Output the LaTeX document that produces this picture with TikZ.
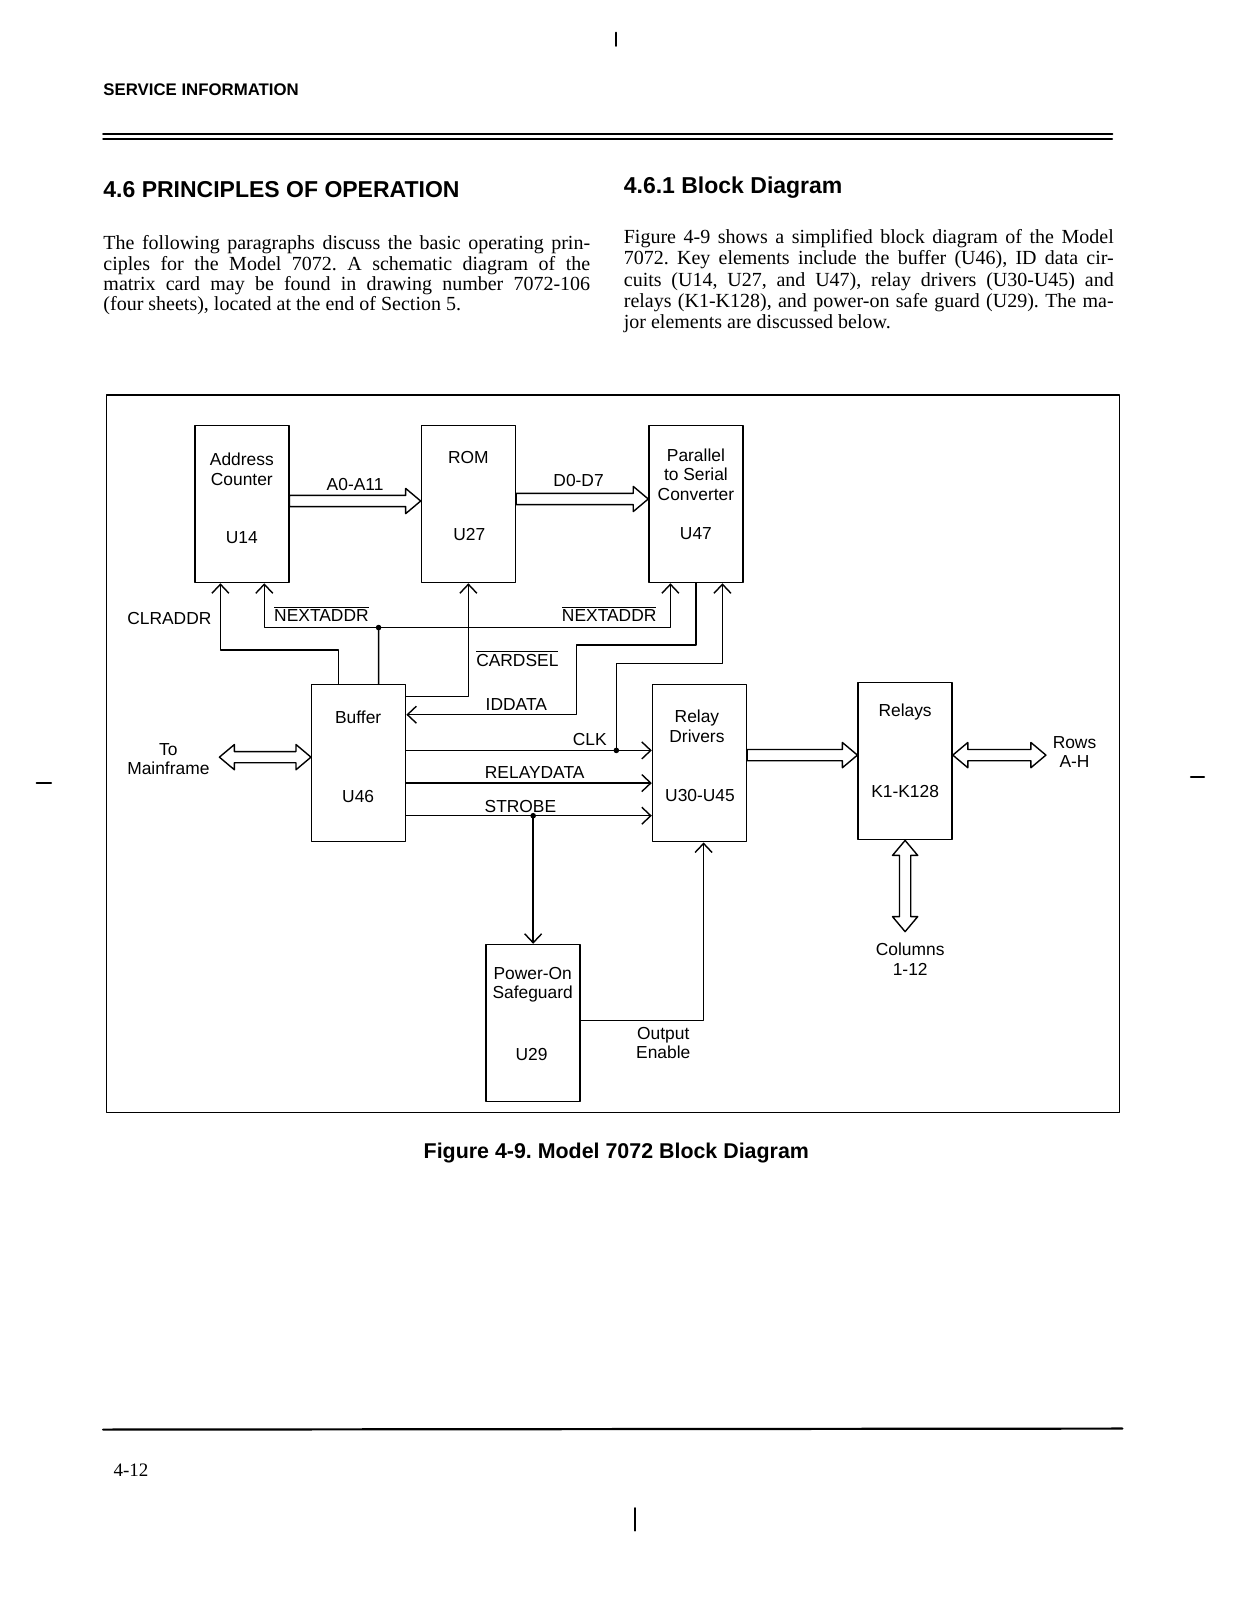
\documentclass[tikz,border=0pt]{standalone}
\usepackage{fontspec}
\setmainfont{Liberation Serif}
\setsansfont{Liberation Sans}
\usetikzlibrary{arrows.meta,calc,positioning}
\frenchspacing

\begin{document}
\begin{tikzpicture}[x=0.5103pt,y=-0.5103pt,line cap=round,line join=round,
  >={Straight Barb[length=4.5pt,width=8.5pt]},
  blk/.style={draw,line width=.7pt,minimum width=47pt,minimum height=78.5pt,inner sep=0pt},
  lbl/.style={font=\sffamily\fontsize{8.7}{9.8}\selectfont,inner sep=0pt,align=center},
  sig/.style={line width=.7pt},
  bus/.style={draw,line width=.7pt,fill=white,to path={
    ($(\tikztostart)!2.8pt!90:(\tikztotarget)$)
    -- ($(\tikztotarget)!7.5pt!(\tikztostart)!2.8pt!-90:(\tikztostart)$)
    -- ($(\tikztotarget)!7.5pt!(\tikztostart)!6.3pt!-90:(\tikztostart)$)
    -- (\tikztotarget)
    -- ($(\tikztotarget)!7.5pt!(\tikztostart)!6.3pt!90:(\tikztostart)$)
    -- ($(\tikztotarget)!7.5pt!(\tikztostart)!2.8pt!90:(\tikztostart)$)
    -- ($(\tikztostart)!2.8pt!-90:(\tikztotarget)$) -- cycle}},
  bibus/.style={draw,line width=.7pt,fill=white,to path={
    -- ($(\tikztostart)!7.5pt!(\tikztotarget)!6.3pt!90:(\tikztotarget)$)
    -- ($(\tikztostart)!7.5pt!(\tikztotarget)!2.8pt!90:(\tikztotarget)$)
    -- ($(\tikztotarget)!7.5pt!(\tikztostart)!2.8pt!-90:(\tikztostart)$)
    -- ($(\tikztotarget)!7.5pt!(\tikztostart)!6.3pt!-90:(\tikztostart)$)
    -- (\tikztotarget)
    -- ($(\tikztotarget)!7.5pt!(\tikztostart)!6.3pt!90:(\tikztostart)$)
    -- ($(\tikztotarget)!7.5pt!(\tikztostart)!2.8pt!90:(\tikztostart)$)
    -- ($(\tikztostart)!7.5pt!(\tikztotarget)!2.8pt!-90:(\tikztotarget)$)
    -- ($(\tikztostart)!7.5pt!(\tikztotarget)!6.3pt!-90:(\tikztotarget)$) -- cycle}},
  dot/.style={circle,fill,inner sep=0pt,minimum size=2.8pt},
  para/.style={anchor=base west,inner sep=0pt,align=left},
  head/.style={anchor=base west,inner sep=0pt,font=\sffamily\bfseries\fontsize{11.5}{13}\selectfont}]
 \fill[white] (0,0) rectangle (1212,1568);
 \useasboundingbox (0,0) rectangle (1212,1568);

 % page
 \draw[line width=1pt] (604,32) -- (604,45);
 \node[anchor=base west,inner sep=0pt,font=\sffamily\bfseries\fontsize{8.4}{10}\selectfont]
  (svc) at (101,94) {SERVICE INFORMATION};
 \draw[line width=1pt] (101,131) -- (1090,131);
 \draw[line width=.8pt] (101,136) -- (1090,136);
 \node[head] (sec) at (101,194) {4.6 PRINCIPLES OF OPERATION};
 \node[head] (subsec) at (611,190) {4.6.1 Block Diagram};
 \node[para,font=\fontsize{10}{10.05}\selectfont] (parl) at (101,304)
  {\makebox[243.4pt][s]{The following paragraphs discuss the basic operating prin-}\\
   \makebox[243.4pt][s]{ciples for the Model 7072. A schematic diagram of the}\\
   \makebox[243.4pt][s]{matrix card may be found in drawing number 7072-106}\\
   (four sheets), located at the end of Section 5.};
 \node[para,font=\fontsize{10}{10.6}\selectfont] (parr) at (611,322)
  {\makebox[245pt][s]{Figure 4-9 shows a simplified block diagram of the Model}\\
   \makebox[245pt][s]{7072. Key elements include the buffer (U46), ID data cir-}\\
   \makebox[245pt][s]{cuits (U14, U27, and U47), relay drivers (U30-U45) and}\\
   \makebox[245pt][s]{relays (K1-K128), and power-on safe guard (U29). The ma-}\\
   jor elements are discussed below.};
 \draw[line width=1pt] (36,767) -- (50,767);
 \draw[line width=1pt] (1167,761) -- (1180,761);

 % diagram frame
 \draw[line width=.6pt] (104,387) rectangle (1097,1090);

 % blocks
 \node[blk] (u14) at (237,494) {};
 \node[blk] (u27) at (459,494) {};
 \node[blk] (u47) at (682,494) {};
 \node[blk] (u46) at (351.5,748) {};
 \node[blk] (u30) at (685.5,748) {};
 \node[blk] (k1) at (887,746) {};
 \node[blk] (u29) at (522.5,1002.5) {};
 \node[lbl] (u14a) at (237,460) {Address\\Counter};
 \node[lbl] (u14b) at (237,527) {U14};
 \node[lbl] (u27a) at (459,448) {ROM};
 \node[lbl] (u27b) at (460,524) {U27};
 \node[lbl] (u47a) at (682,465) {Parallel\\to Serial\\Converter};
 \node[lbl] (u47b) at (682,523) {U47};
 \node[lbl] (u46a) at (351,703) {Buffer};
 \node[lbl] (u46b) at (351,781) {U46};
 \node[lbl] (u30a) at (683,712) {Relay\\Drivers};
 \node[lbl] (u30b) at (686,780) {U30-U45};
 \node[lbl] (k1a) at (887,698) {Relays};
 \node[lbl] (k1b) at (887,776) {K1-K128};
 \node[lbl] (u29a) at (522,965) {Power-On\\Safeguard};
 \node[lbl] (u29b) at (521,1033) {U29};

 % buses
 \coordinate (abus) at ($(u14.east)+(0,-3)$);
 \coordinate (abusr) at (abus -| u27.west);
 \draw[bus] (abus) to (abusr);
 \node[lbl] (alab) at (348,475) {A0-A11};
 \coordinate (dbus) at ($(u27.east)+(0,-5)$);
 \coordinate (dbusr) at (dbus -| u47.west);
 \draw[bus] (dbus) to (dbusr);
 \node[lbl] (dlab) at (567,471) {D0-D7};
 \coordinate (mfl) at (215,742);
 \coordinate (mfr) at (mfl -| u46.west);
 \draw[bibus] (mfl) to (mfr);
 \node[lbl] (mflab) at (165,744) {To\\Mainframe};
 \coordinate (rbus) at ($(u30.east)+(0,-8)$);
 \coordinate (rbusr) at (rbus -| k1.west);
 \draw[bus] (rbus) to (rbusr);
 \coordinate (rowsr) at (1025,740);
 \coordinate (rowsl) at (rowsr -| k1.east);
 \draw[bibus] (rowsl) to (rowsr);
 \node[lbl] (rowlab) at (1053,737) {Rows\\A-H};
 \coordinate (colst) at (k1.south);
 \coordinate (colsb) at (887,913);
 \draw[bibus] (colst) to (colsb);
 \node[lbl] (collab) at (892,940) {Columns\\1-12};

 % control lines
 \coordinate (clrbend) at (216,637);
 \draw[sig,->] ($(u46.north)+(-19.5,0)$) |- (clrbend) -| ($(u14.south)+(-21,0)$);
 \node[lbl] (clrlab) at (166,606) {CLRADDR};
 \coordinate (nxtj) at (371,615);
 \draw[sig,<->] ($(u14.south)+(22,0)$) |- (nxtj) -| ($(u47.south)+(-25,0)$);
 \draw[sig] ($(u46.north)+(19.5,0)$) -- (nxtj);
 \node[dot] at (nxtj) {};
 \node[lbl,anchor=base] (nxtlab1) at (315,609.5) {$\overline{\mbox{NEXTADDR}}$};
 \node[lbl,anchor=base] (nxtlab2) at (597,609.5) {$\overline{\mbox{NEXTADDR}}$};
 \draw[sig,->] ($(u46.north east)+(0,12)$) -| (u27.south);
 \node[lbl,anchor=base] (cslab) at (507,653.5) {$\overline{\mbox{CARDSEL}}$};
 \coordinate (idbend) at (565,632);
 \draw[sig,->] (u47.south) |- (idbend) |- ($(u46.north east)+(0,30)$);
 \node[lbl] (idlab) at (506,690) {IDDATA};
 \coordinate (clkl) at ($(u46.north east)+(0,65)$);
 \draw[sig,->] (clkl) -- (clkl -| u30.west);
 \coordinate (clkbend) at (604,650);
 \coordinate (clkj) at (clkl -| clkbend);
 \draw[sig,->] (clkj) |- (clkbend) -| ($(u47.south)+(26,0)$);
 \node[dot] at (clkj) {};
 \node[lbl] (clklab) at (578,725) {CLK};
 \coordinate (rdl) at ($(u46.north east)+(0,97)$);
 \draw[sig,->] (rdl) -- (rdl -| u30.west);
 \node[lbl] (rdlab) at (524,757) {RELAYDATA};
 \coordinate (stbl) at ($(u46.north east)+(0,129)$);
 \draw[sig,->] (stbl) -- (stbl -| u30.west);
 \node[lbl] (stblab) at (510,790) {STROBE};
 \coordinate (stbj) at (stbl -| u29.north);
 \draw[sig,->] (stbj) -- (u29.north);
 \node[dot] at (stbj) {};
 \draw[sig,->] ($(u29.north east)+(0,75)$) -| ($(u30.south)+(4,0)$);
 \node[lbl] (oelab) at (650,1022) {Output\\Enable};

 % caption and footer
 \node[anchor=base,inner sep=0pt,font=\sffamily\bfseries\fontsize{10.7}{12}\selectfont]
  (cap) at (604,1135) {Figure 4-9. Model 7072 Block Diagram};
 \draw[line width=1.1pt] (101,1401) -- (1100,1400);
 \node[anchor=base west,inner sep=0pt,font=\fontsize{9.5}{11}\selectfont] (pg) at (111,1447) {4-12};
 \draw[line width=1pt] (622,1478) -- (622,1500);
\end{tikzpicture}
\end{document}
